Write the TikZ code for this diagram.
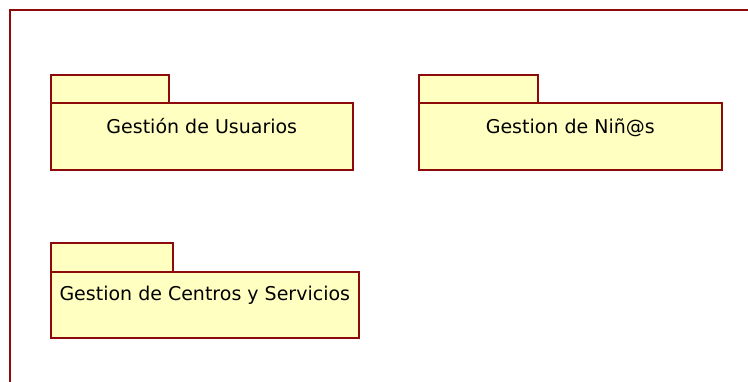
\documentclass[tikz,border=0pt]{standalone}
\usepackage{fontspec}
\setmainfont{DejaVu Sans}
\usepackage{tikz}
\usetikzlibrary{positioning,calc}

\definecolor{pkgline}{RGB}{140,10,10}
\definecolor{pkgfill}{RGB}{255,255,194}

\tikzset{
    pkgbody/.style={draw=pkgline, fill=pkgfill, line width=1.6pt, anchor=north west, inner sep=0pt},
    pkgtab/.style={pkgbody},
    pkgtext/.style={anchor=base, inner sep=0pt, font=\fontsize{19}{22}\selectfont}
}

\begin{document}
\begin{tikzpicture}[x=1pt, y=-1pt]
    \clip (0,0) rectangle (748,382);
    \fill[white] (0,0) rectangle (748,382);

    % frame
    \draw[pkgline, line width=1.6pt] (10,400) -- (10,10) -- (770,10);

    % Gestion de Usuarios
    \node[pkgtab, minimum width=118pt, minimum height=28pt] (usrtab) at (50,74) {};
    \node[pkgbody, minimum width=302pt, minimum height=67pt] (usr) at (50,102) {};
    \node[pkgtext] (usrlbl) at ([yshift=-32pt]usr.north) {Gestión de Usuarios};

    % Gestion de Nin@s
    \node[pkgtab, minimum width=119pt, minimum height=28pt] (ninetab) at (418,74) {};
    \node[pkgbody, minimum width=303pt, minimum height=67pt] (nine) at (418,102) {};
    \node[pkgtext] (ninelbl) at ([yshift=-32pt]nine.north) {Gestion de Niñ@s};

    % Centros y Servicios
    \node[pkgtab, minimum width=122pt, minimum height=29pt] (centab) at (50,242) {};
    \node[pkgbody, minimum width=308pt, minimum height=66pt] (cen) at (50,271) {};
    \node[pkgtext] (cenlbl) at ([yshift=-30pt]cen.north) {Gestion de Centros y Servicios};
\end{tikzpicture}
\end{document}
